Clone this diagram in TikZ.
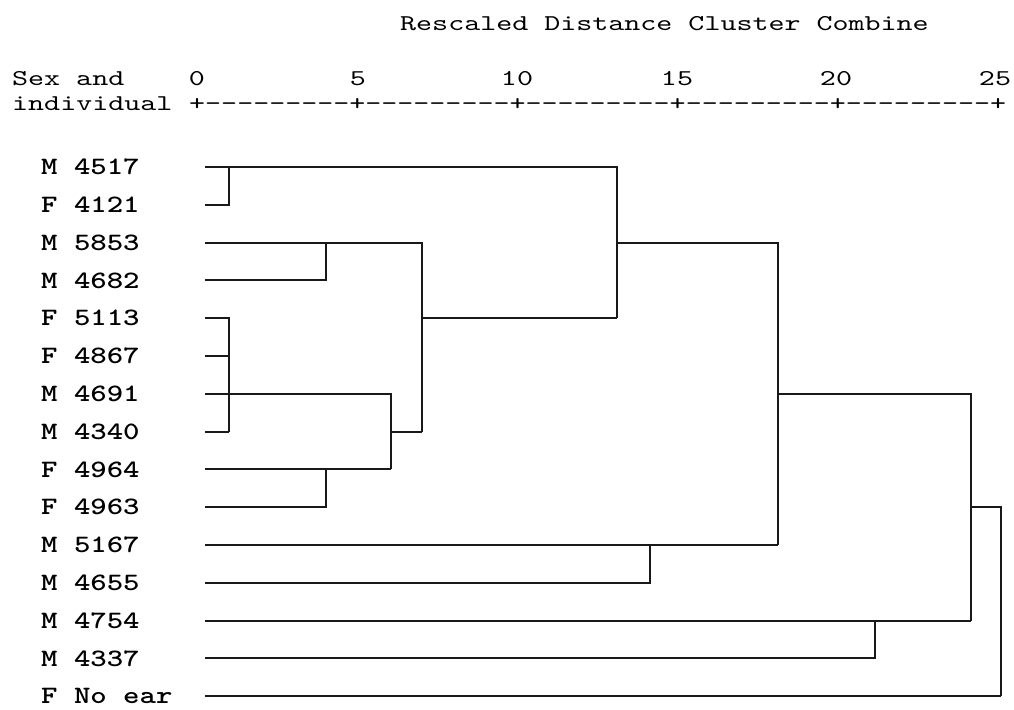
\documentclass[tikz,border=0pt]{standalone}
\usepackage{fontspec}
\newfontfamily\headfont{lmmono10-regular.otf}[FakeStretch=1.35]
\newfontfamily\leaffont{lmmonolt10-bold.otf}[FakeStretch=1.25]
\usetikzlibrary{positioning}
\tikzset{
  head/.style={font=\fontsize{22.6}{24}\headfont,inner sep=0pt,anchor=west},
  tickno/.style={font=\fontsize{22.6}{24}\headfont,inner sep=0pt},
  leaf/.style={font=\fontsize{25}{26}\leaffont,inner sep=0pt,anchor=west},
  link/.style={line width=2pt,draw=black!90},
}

\begin{document}
\begin{tikzpicture}[x=1pt, y=-1pt]
  \path[use as bounding box, fill=white] (0,0) rectangle (1014,709);

  % Heading and scale
  \node[head] (title) at (400,24) {Rescaled Distance Cluster Combine};
  \node[head] (sex) at (12,79) {Sex and};
  \node[head] (indiv) at (12,104) {individual};
  \node[head] (axis) at (189,104) {+{-}{-}{-}{-}{-}{-}{-}{-}{-}+{-}{-}{-}{-}{-}{-}{-}{-}{-}+{-}{-}{-}{-}{-}{-}{-}{-}{-}+{-}{-}{-}{-}{-}{-}{-}{-}{-}+{-}{-}{-}{-}{-}{-}{-}{-}{-}+};
  \node[tickno] (t0) at (197,79) {0};
  \node[tickno] (t5) at (358,79) {5};
  \node[tickno] (t10) at (517,79) {10};
  \node[tickno] (t15) at (677,79) {15};
  \node[tickno] (t20) at (836,79) {20};
  \node[tickno] (t25) at (995,79) {25};

  % Leaves
  \node[leaf] (m4517) at (41,167) {M 4517};
  \node[leaf, below=37.8pt of m4517.west, anchor=west] (f4121) {F 4121};
  \node[leaf, below=37.8pt of f4121.west, anchor=west] (m5853) {M 5853};
  \node[leaf, below=37.8pt of m5853.west, anchor=west] (m4682) {M 4682};
  \node[leaf, below=37.8pt of m4682.west, anchor=west] (f5113) {F 5113};
  \node[leaf, below=37.8pt of f5113.west, anchor=west] (f4867) {F 4867};
  \node[leaf, below=37.8pt of f4867.west, anchor=west] (m4691) {M 4691};
  \node[leaf, below=37.8pt of m4691.west, anchor=west] (m4340) {M 4340};
  \node[leaf, below=37.8pt of m4340.west, anchor=west] (f4964) {F 4964};
  \node[leaf, below=37.8pt of f4964.west, anchor=west] (f4963) {F 4963};
  \node[leaf, below=37.8pt of f4963.west, anchor=west] (m5167) {M 5167};
  \node[leaf, below=37.8pt of m5167.west, anchor=west] (m4655) {M 4655};
  \node[leaf, below=37.8pt of m4655.west, anchor=west] (m4754) {M 4754};
  \node[leaf, below=37.8pt of m4754.west, anchor=west] (m4337) {M 4337};
  \node[leaf, below=37.8pt of m4337.west, anchor=west] (fnoear) {F No ear};

  % Columns of the joins
  \coordinate (x0) at (205,0);
  \coordinate (xa) at (229,0);
  \coordinate (xb) at (326,0);
  \coordinate (xc) at (391,0);
  \coordinate (xd) at (422,0);
  \coordinate (xe) at (617,0);
  \coordinate (xf) at (650,0);
  \coordinate (xg) at (778,0);
  \coordinate (xh) at (875,0);
  \coordinate (xi) at (971,0);
  \coordinate (xj) at (1001,0);

  % Tree
  \draw[link] (m4517 -| x0) -| (f5113 -| xe);
  \draw[link] (f4121 -| x0) -| (m4517 -| xa);
  \draw[link] (m5853 -| x0) -| (m4340 -| xd);
  \draw[link] (m4682 -| x0) -| (m5853 -| xb);
  \draw[link] (f5113 -| x0) -| (m4340 -| xa);
  \draw[link] (f4867 -| x0) -- (f4867 -| xa);
  \draw[link] (m4340 -| x0) -- (m4340 -| xa);
  \draw[link] (m4691 -| x0) -| (f4964 -| xc);
  \draw[link] (f4964 -| x0) -- (f4964 -| xc);
  \draw[link] (f4963 -| x0) -| (f4964 -| xb);
  \draw[link] (m4340 -| xc) -- (m4340 -| xd);
  \draw[link] (f5113 -| xd) -- (f5113 -| xe);
  \draw[link] (m5853 -| xe) -| (m5167 -| xg);
  \draw[link] (m5167 -| x0) -- (m5167 -| xg);
  \draw[link] (m4655 -| x0) -| (m5167 -| xf);
  \draw[link] (m4691 -| xg) -| (m4754 -| xi);
  \draw[link] (m4754 -| x0) -- (m4754 -| xi);
  \draw[link] (m4337 -| x0) -| (m4754 -| xh);
  \draw[link] (f4963 -| xi) -| (fnoear -| xj);
  \draw[link] (fnoear -| x0) -- (fnoear -| xj);
\end{tikzpicture}
\end{document}
